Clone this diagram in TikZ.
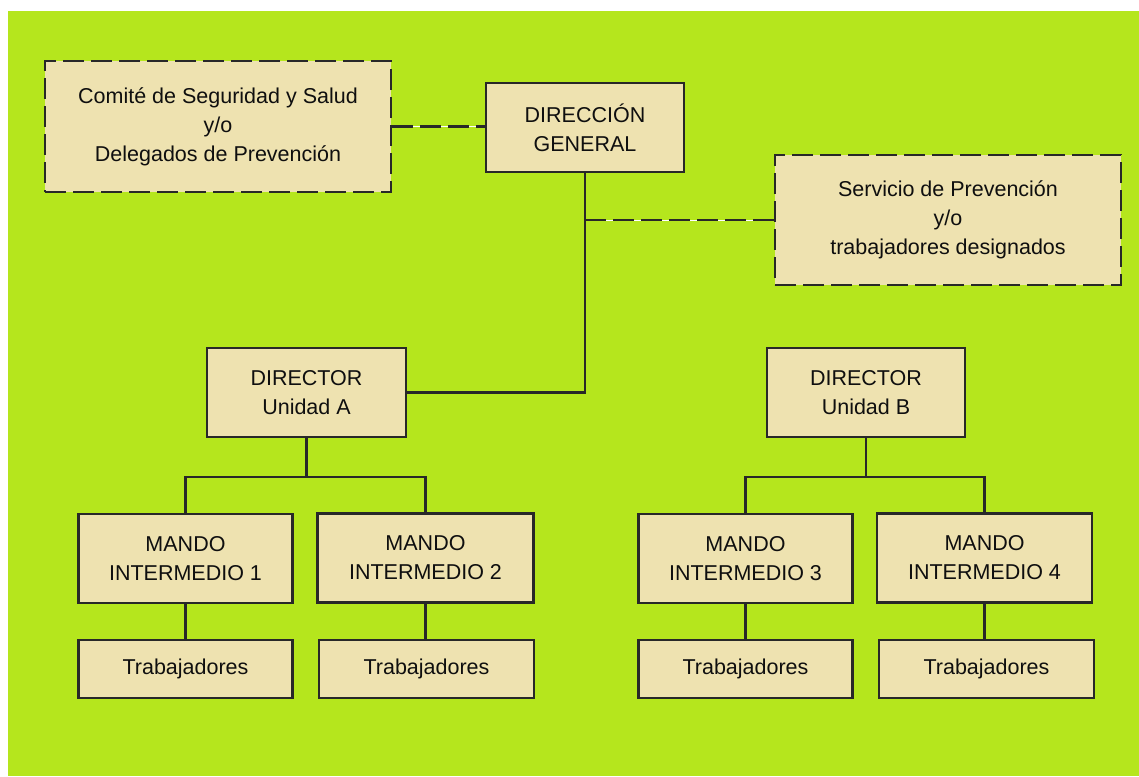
\documentclass[tikz,border=0pt]{standalone}
\usepackage{fontspec}
\setmainfont{Liberation Sans}
\definecolor{bggreen}{RGB}{181,230,29}
\definecolor{boxfill}{RGB}{238,226,176}
\definecolor{edge}{RGB}{40,40,40}
\definecolor{ink}{RGB}{15,15,15}
\tikzset{
  unit/.style={rectangle, draw=edge, line width=2.2pt, fill=boxfill,
    text=ink, align=center, inner sep=0pt,
    font=\fontsize{21.5}{29}\selectfont},
  advisor/.style={rectangle, line width=2.2pt, text=ink, align=center,
    inner sep=0pt, font=\fontsize{21.5}{29}\selectfont,
    preaction={fill=boxfill, draw=white},
    draw=edge, dash pattern=on 21pt off 7pt},
  link/.style={draw=edge, line width=2.2pt},
  dashlink/.style={draw=edge, line width=2.2pt, dash pattern=on 21pt off 7pt,
    preaction={draw=white}},
}
\begin{document}
\begin{tikzpicture}[x=1pt, y=-1pt]
  % page and coloured panel
  \fill[white] (0,0) rectangle (1139,776);
  \fill[bggreen] (8,11) rectangle (1139,776);
  \useasboundingbox (0,0) rectangle (1139,776);

  % advisory bodies
  \node[advisor, minimum width=346pt, minimum height=131pt] (comite) at (218,126.5)
    {Comité de Seguridad y Salud\\y/o\\Delegados de Prevención};
  \node[advisor, minimum width=346pt, minimum height=130pt] (serv) at (948,220)
    {Servicio de Prevención\\y/o\\trabajadores designados};

  % management
  \node[unit, minimum width=198pt, minimum height=89pt] (dg) at (585,127.5)
    {DIRECCIÓN\\GENERAL};
  \node[unit, minimum width=199pt, minimum height=89pt] (dirA) at (306.5,392.5)
    {DIRECTOR\\Unidad A};
  \node[unit, minimum width=198pt, minimum height=89pt] (dirB) at (866,392.5)
    {DIRECTOR\\Unidad B};

  \node[unit, minimum width=214pt, minimum height=89pt] (m1) at (185.5,558.5)
    {MANDO\\INTERMEDIO 1};
  \node[unit, minimum width=216pt, minimum height=89pt] (m2) at (425.5,558)
    {MANDO\\INTERMEDIO 2};
  \node[unit, minimum width=214pt, minimum height=89pt] (m3) at (745.5,558.5)
    {MANDO\\INTERMEDIO 3};
  \node[unit, minimum width=215pt, minimum height=89pt] (m4) at (984.5,558)
    {MANDO\\INTERMEDIO 4};

  \node[unit, minimum width=214pt, minimum height=58pt] (t1) at (185.5,669) {Trabajadores};
  \node[unit, minimum width=215pt, minimum height=58pt] (t2) at (426.5,669) {Trabajadores};
  \node[unit, minimum width=214pt, minimum height=58pt] (t3) at (745.5,669) {Trabajadores};
  \node[unit, minimum width=215pt, minimum height=58pt] (t4) at (986.5,669) {Trabajadores};

  % junctions
  \coordinate (jserv) at (dg.south |- serv.west);
  \coordinate (busA) at (306.5,477);
  \coordinate (busB) at (866,477);

  % connectors
  \draw[dashlink] (comite.east) -- (comite.east -| dg.west);
  \draw[link] (dg.south) |- (dirA.east);
  \draw[dashlink] (jserv) -- (serv.west);

  \draw[link] (dirA.south) -- (busA);
  \draw[link] (m1.north) |- (busA) -| (m2.north);
  \draw[link] (dirB.south) -- (busB);
  \draw[link] (m3.north) |- (busB) -| (m4.north);

  \draw[link] (m1.south) -- (t1.north -| m1.south);
  \draw[link] (m2.south) -- (t2.north -| m2.south);
  \draw[link] (m3.south) -- (t3.north -| m3.south);
  \draw[link] (m4.south) -- (t4.north -| m4.south);
\end{tikzpicture}
\end{document}
